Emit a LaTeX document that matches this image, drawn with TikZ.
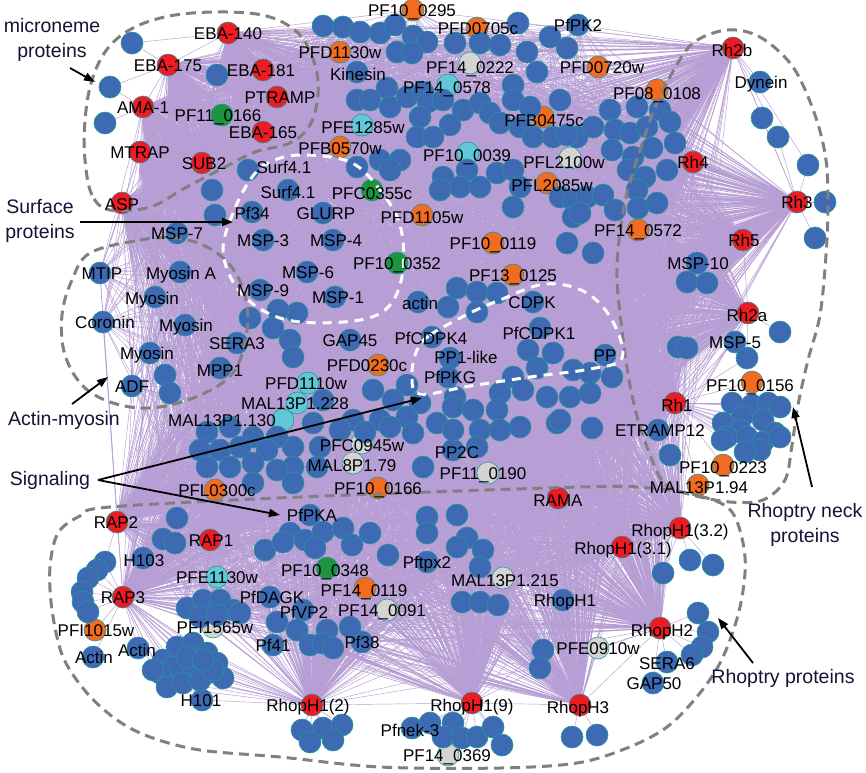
\documentclass[tikz,border=0pt]{standalone}
\usepackage{fontspec}
\setmainfont{Liberation Sans}
\usepackage{xcolor}
\definecolor{netRed}   {RGB}{237, 28, 36}
\definecolor{netBlue}  {RGB}{ 62,106,180}
\definecolor{netRim}   {RGB}{ 38,150,158}
\definecolor{netOrange}{RGB}{241,107, 32}
\definecolor{netCyan}  {RGB}{ 96,200,214}
\definecolor{netGreen} {RGB}{ 28,148, 64}
\definecolor{netGrey}  {RGB}{212,212,212}
\definecolor{netEdge}  {RGB}{183,158,212}
\definecolor{netDash}  {RGB}{128,128,128}
\definecolor{netInk}   {RGB}{ 18, 22, 52}
\usetikzlibrary{
  arrows.meta,
  backgrounds,
}

% unlabeled interactors of the dense core
\def\corelist{323/26, 343/27, 360/32, 380/33, 395/25, 413/36, 427/42, 397/52,
  412/53, 455/43, 480/43, 500/45, 518/23, 527/52, 550/37, 567/48,
  217/75, 212/190, 215/215,
  387/88, 357/100, 370/100, 390/107, 407/97, 423/92, 428/102, 443/100,
  463/110, 480/103, 490/113, 513/85, 537/72, 513/100, 530/107, 560/100,
  420/117, 450/125, 417/137, 433/137, 500/123, 520/127, 533/137, 553/137,
  577/137, 610/110, 637/107, 660/110, 670/122, 593/127, 615/130, 630/133,
  647/127, 567/135, 612/150, 633/157, 652/148, 675/143,
  400/160, 380/160, 357/167, 390/170, 443/177, 467/170, 460/187, 480/187,
  440/190, 497/173, 513/170, 520/187, 560/197, 573/200, 513/207, 573/217,
  628/170, 645/177, 667/170, 587/197, 603/195, 580/213, 615/210, 637/190,
  638/208, 657/203, 567/243, 593/253, 687/282, 707/283, 678/347, 687/348,
  297/313, 290/340, 278/310, 250/318, 273/328, 293/357, 457/288, 477/292,
  497/293, 448/307, 477/312, 528/350, 553/353, 537/368, 513/377, 573/370,
  590/373, 612/377, 373/390, 407/385, 393/400, 455/397, 500/393, 523/390,
  547/397, 570/397, 590/393, 323/400, 420/403, 353/420, 380/420, 407/417,
  313/423, 340/430, 365/432, 390/427, 413/433, 293/447, 320/447, 293/467,
  317/467, 437/423, 453/407, 473/410, 453/430, 480/430, 497/410, 520/427,
  557/423, 477/447, 500/430, 423/467, 592/428, 560/420,
  207/432, 230/427, 253/437, 277/437, 200/450, 220/450, 240/447, 267/450,
  207/467, 230/467, 253/463, 277/470, 293/483, 253/483, 165/375, 170/393,
  177/518, 163/539, 175/543, 290/533, 305/540, 323/532, 343/528, 370/533,
  315/548, 352/545, 388/555, 427/517, 457/515, 427/533, 467/538, 457/547,
  483/550, 480/567, 462/602, 480/602, 498/605, 350/627, 297/630, 327/630,
  310/645, 323/643, 333/648, 543/650, 540/668, 265/550, 283/542, 277/622,
  187/608, 203/600, 220/600, 233/610, 200/617, 217/615, 240/613}

% named interactors that every hub reaches
\def\labcore{kinesin, pfpk2, surf41a, surf41b, pf34, glurp, msp3, msp4, msp6,
  msp9, msp1, msp7, msp10, mtip, myosina, myosin1, coronin, myosin2, myosin3,
  adf, sera3, mpp1, actin, cdpk, gap45, pfcdpk4, pfcdpk1, pp1like, pfpkg, pp,
  pp2c, h103, pfdagk, pfvp2, pf41, pf38, pfpka, pftpx2, rhoph1,
  pf10-0295, pfd0705c, pfd1130w, pfd0720w, pf08-0108, pfb0475c, pfb0570w,
  pfl2085w, pfd1105w, pf10-0119, pf14-0572, pf13-0125, pfd0230c, pfl0300c,
  pf10-0166, pf14-0119, pf14-0578, pfe1285w, pf10-0039, pfd1110w,
  mal13p1-228, mal13p1-130, pfe1130w, pf11-0166, pfc0355c, pf10-0352,
  pf10-0348, pf14-0222, pfl2100w, pfc0945w, mal8p1-79, pf11-0190,
  mal13p1-215, pfi1565w, pf14-0091}

\def\hublist{eba140, eba175, eba181, ama1, ptramp, eba165, mtrap, sub2, asp,
  rh2b, rh4, rh3, rh5, rh2a, rh1, rama, rap2, rap1, rap3, rhop32, rhop31,
  rhoph2, rhoph3, rhop2, rhop9}

\begin{document}
\begin{tikzpicture}[
  x=1pt, y=-1pt,
  prot/.style={circle, minimum size=22pt, inner sep=0pt, draw=netRim,
               line width=0.6pt},
  hub/.style={prot, fill=netRed},
  bnode/.style={prot, fill=netBlue},
  onode/.style={prot, fill=netOrange},
  cnode/.style={prot, fill=netCyan},
  gnode/.style={prot, fill=netGreen},
  ynode/.style={prot, fill=netGrey},
  lbl/.style={font=\fontsize{17}{17}\selectfont, inner sep=0pt,
              text height=12.2pt, text depth=0pt, text=black},
  link/.style={draw=netEdge, line width=0.45pt},
  grp/.style={draw=netDash, line width=3pt, dash pattern=on 10pt off 6pt},
  wgrp/.style={draw=white, line width=3pt, dash pattern=on 9pt off 7pt},
  note/.style={font=\fontsize{19.5}{25}\selectfont, text=netInk,
               align=center, inner sep=0pt},
  pointer/.style={-{Triangle[length=11pt,width=8pt]}, line width=1.8pt},
]
  \useasboundingbox (0,0) rectangle (866,772);

  % Hubs (red)
  \foreach \n/\x/\y in {eba140/228/33, eba175/168/65, eba181/263/70,
      ama1/143/107, ptramp/277/97, eba165/263/132, mtrap/140/152,
      sub2/202/163, asp/122/203, rh2b/733/48, rh4/693/162, rh3/797/202,
      rh5/743/240, rh2a/748/313, rh1/675/403, rama/558/498, rap2/117/522,
      rap1/210/540, rap3/123/597, rhop32/680/528, rhop31/622/547,
      rhoph2/660/628, rhoph3/580/705, rhop2/312/705, rhop9/472/703}
    \node[hub] (\n) at (\x,\y) {};

  % Coloured interactors
  \foreach \n/\x/\y in {pf10-0295/413/10, pfd0705c/477/28, pfd1130w/340/52,
      pfd0720w/598/67, pf08-0108/657/90, pfb0475c/543/117, pfb0570w/340/147,
      pfl2085w/547/183, pfd1105w/422/215, pf10-0119/493/243,
      pf14-0572/638/230, pf13-0125/513/275, pfd0230c/378/365,
      pfl0300c/215/490, pf10-0166/378/488, pf10-0156/752/382,
      pf10-0223/723/465, mal13p1-94/698/485, pfi1015w/95/630,
      pf14-0119/365/588}
    \node[onode] (\n) at (\x,\y) {};
  \foreach \n/\x/\y in {pf14-0578/448/85, pfe1285w/362/125, pf10-0039/468/153,
      pfd1110w/308/383, mal13p1-228/297/403, mal13p1-130/283/420,
      pfe1130w/217/577}
    \node[cnode] (\n) at (\x,\y) {};
  \foreach \n/\x/\y in {pf11-0166/222/115, pfc0355c/372/190,
      pf10-0352/397/263, pf10-0348/327/568}
    \node[gnode] (\n) at (\x,\y) {};
  \foreach \n/\x/\y in {pf14-0222/470/63, pfl2100w/570/158, pfc0945w/362/443,
      mal8p1-79/353/463, pf11-0190/488/473, mal13p1-215/503/578,
      pfi1565w/213/627, pf14-0091/387/610, pfe0910w/598/648,
      pf14-0369/448/755}
    \node[ynode] (\n) at (\x,\y) {};

  % Named blue interactors
  \foreach \n/\x/\y in {kinesin/357/72, pfpk2/578/25, dynein/760/82,
      surf41a/248/170, surf41b/288/190, pf34/252/212, glurp/323/213,
      msp3/263/240, msp4/333/240, msp6/307/272, msp9/260/290, msp1/335/297,
      msp7/177/233, msp10/697/263, msp5/735/342, mtip/100/273,
      myosina/180/272, myosin1/155/297, coronin/103/322, myosin2/185/325,
      myosin3/150/353, adf/132/386, sera3/237/343, mpp1/220/368,
      actin/418/302, cdpk/533/302, gap45/350/340, pfcdpk4/432/337,
      pfcdpk1/540/328, pp1like/450/358, pfpkg/448/377, pp/605/355,
      pp2c/453/450, etramp12/658/430, sera6/667/662, gap50/653/683,
      h103/143/558, pfdagk/270/597, pfvp2/303/610, pf41/273/645,
      pf38/362/642, pfpka/310/515, pftpx2/427/562, rhoph1/563/600,
      pfnek3/412/728, actin1/93/657, actin2/138/648, h101/202/700}
    \node[bnode] (\n) at (\x,\y) {};

  % Unnamed core and satellites
  \foreach \x/\y [count=\i] in \corelist
    \node[bnode] (c\i) at (\x,\y) {};
  \foreach \n/\x/\y in {m1/132/43, m2/110/87, m3/105/123,
      d1/762/118, d2/778/137, d3/808/165, d4/825/202, d5/815/238,
      a1/780/332, a2/747/358, r1/670/455,
      q1/663/573, q2/690/560, q3/713/565,
      h1/698/613, h2/708/632, h3/702/647, h4/692/655, e1/572/737, e2/597/735,
      n1/430/723, n2/453/723, n3/443/737, n4/462/738, n5/477/737,
      n6/493/727, n7/502/745,
      p1/302/730, p2/323/728, p3/342/725, p4/333/740, p5/310/742,
      u1/105/562, u2/97/570, u3/88/578, u4/82/592, u5/83/602, u6/88/612}
    \node[bnode] (\n) at (\x,\y) {};
  % Rh1 cluster
  \foreach \x/\y [count=\i] in {732/403, 752/405, 768/403, 780/407, 742/417,
      763/420, 723/423, 740/430, 775/433, 727/437, 747/437, 763/442,
      780/437, 760/450, 722/440, 745/452}
    \node[bnode] (k\i) at (\x,\y) {};
  % H101 cluster
  \foreach \x/\y [count=\i] in {163/660, 177/647, 193/643, 207/653, 217/663,
      223/678, 207/673, 190/667, 173/667, 160/673, 167/687, 183/683,
      200/680, 213/670, 187/657, 203/660, 153/670}
    \node[bnode] (w\i) at (\x,\y) {};

  % Interactions, kept under the proteins
  \begin{scope}[on background layer]
    \fill[white] (0,0) rectangle (866,772);
    \foreach \h in \hublist {
      \draw[link] \foreach \x/\y [count=\i] in \corelist {(\h) -- (c\i)};
      \draw[link] \foreach \t in \labcore {(\h) -- (\t)};
    }
    \foreach \h/\s in {eba175/m1, eba140/m1, eba175/m2, ama1/m2, ama1/m3,
        rh2b/dynein, rh2b/d1, rh2b/d2, rh2b/d3, rh3/d1, rh3/d2, rh3/d3,
        rh3/d4, rh3/d5, rh2a/a1, rh2a/msp5, rh2a/a2, rh1/msp5, rh1/a2,
        rh1/pf10-0156, rh1/etramp12, rh1/r1, rh1/pf10-0223, rh1/mal13p1-94,
        rhop32/q1, rhop32/q2, rhop32/q3, rhop31/q1, rhoph2/h1, rhoph2/h2,
        rhoph2/h3, rhoph2/h4, rhoph2/sera6, rhoph2/gap50, rhoph2/pfe0910w,
        rhoph2/q1, rhoph3/e1, rhoph3/e2, rhoph3/pfe0910w, rhop9/pfnek3,
        rhop9/n1, rhop9/n2, rhop9/n3, rhop9/n4, rhop9/n5, rhop9/n6,
        rhop9/n7, rhop9/pf14-0369, rhop2/p1, rhop2/p2, rhop2/p3, rhop2/p4,
        rhop2/p5, rap3/u1, rap3/u2, rap3/u3, rap3/u4, rap3/u5, rap3/u6,
        rap2/u1, rap3/pfi1015w, rap3/actin1, rap3/actin2, rap3/h101,
        rhop2/h101}
      \draw[link] (\h) -- (\s);
    \foreach \i in {1,...,16}
      \draw[link] (rh1) -- (k\i);
    \foreach \i in {1,...,17}
      \draw[link] (rap3) -- (w\i) (rhop2) -- (w\i);
    % hub to hub
    \foreach \a/\b in {rhop2/rhop9, rhop9/rhoph3, rhoph3/rhoph2,
        rhoph2/rhop31, rhop31/rhop32, rama/rhop31, rap3/rap2, rap2/rap1,
        rap1/rap3, eba140/eba175, eba175/ama1, ama1/mtrap, eba181/eba140,
        rh2b/rh4, rh4/rh3, rh3/rh5, rh5/rh2a, rh2a/rh1, rh2b/rh3,
        rh1/rh5, rh1/rh4}
      \draw[link] (\a) -- (\b);
  \end{scope}

  % Functional groups
  \draw[grp] plot[smooth cycle, tension=0.6] coordinates {
    (110,210) (92,195) (85,160) (85,120) (92,80) (108,48) (135,27) (175,15)
    (227,12) (270,17) (300,35) (315,65) (318,95) (310,125) (290,143)
    (255,152) (225,167) (185,188) (150,207)};
  \draw[grp] plot[smooth cycle, tension=0.6] coordinates {
    (90,253) (140,240) (175,238) (205,246) (230,265) (245,295) (247,330)
    (235,370) (205,393) (160,407) (120,405) (85,388) (65,355) (62,315)
    (72,280)};
  \draw[grp] plot[smooth cycle, tension=0.55] coordinates {
    (693,43) (727,30) (760,37) (793,67) (815,115) (826,160) (828,207)
    (826,255) (820,315) (808,360) (798,405) (792,445) (785,480) (763,500)
    (730,502) (692,495) (665,484) (650,455) (638,420) (629,380) (622,330)
    (617,280) (619,240) (627,193) (640,150) (654,110) (671,75)};
  \draw[grp] plot[smooth cycle, tension=0.55] coordinates {
    (650,488) (700,496) (732,512) (745,557) (740,607) (723,657) (700,693)
    (667,727) (627,748) (577,763) (500,768) (380,767) (280,757) (200,750)
    (150,737) (117,720) (87,693) (63,657) (52,610) (50,567) (58,533)
    (80,516) (110,507) (300,497) (580,487)};
  \draw[wgrp] plot[smooth cycle, tension=0.6] coordinates {
    (250,180) (233,213) (223,250) (235,285) (262,310) (300,322) (360,320)
    (390,305) (403,270) (400,225) (380,190) (350,162) (300,155) (268,163)};
  \draw[wgrp] plot[smooth cycle, tension=0.6] coordinates {
    (417,350) (430,335) (470,313) (500,300) (545,284) (585,292) (612,320)
    (622,358) (590,369) (537,376) (470,386) (420,394) (412,375)};

  % Protein names
  \foreach \n/\x/\y/\t in {eba140/228/33/EBA-140, eba175/168/65/EBA-175,
      eba181/261/70/EBA-181, ama1/143/107/AMA-1, ptramp/280/97/PTRAMP,
      pf11-0166/218/115/PF11\_0166, eba165/263/132/EBA-165,
      mtrap/140/152/MTRAP, sub2/204/163/SUB2, surf41a/284/167/Surf4.1,
      surf41b/288/192/Surf4.1, asp/122/204/ASP, pf34/252/213/Pf34,
      glurp/326/213/GLURP, msp7/177/233/MSP-7, msp3/263/240/MSP-3,
      msp4/336/240/MSP-4, pf10-0295/412/10/PF10\_0295,
      pfd0705c/478/28/PFD0705c, pfpk2/578/25/PfPK2,
      pfd1130w/340/52/PFD1130w, pf14-0222/470/67/PF14\_0222,
      pfd0720w/602/67/PFD0720w, kinesin/358/74/Kinesin,
      pf14-0578/447/87/PF14\_0578, pf08-0108/657/93/PF08\_0108,
      pfb0475c/544/120/PFB0475c, pfe1285w/363/127/PFE1285w,
      pfb0570w/340/148/PFB0570w, pf10-0039/467/155/PF10\_0039,
      pfl2100w/564/162/PFL2100w, pfl2085w/552/185/PFL2085w,
      pfc0355c/372/193/PFC0355c, pfd1105w/422/217/PFD1105w,
      pf10-0119/493/243/PF10\_0119, pf14-0572/638/230/PF14\_0572,
      rh2b/732/50/Rh2b, dynein/761/82/Dynein, rh4/693/162/Rh4,
      rh3/797/202/Rh3, rh5/744/240/Rh5, msp10/698/263/MSP-10,
      rh2a/747/315/Rh2a, msp5/735/342/MSP-5,
      pf10-0156/750/385/PF10\_0156, rh1/677/405/Rh1,
      etramp12/660/430/ETRAMP12, pf10-0223/723/467/PF10\_0223,
      mal13p1-94/699/487/MAL13P1.94, pf10-0352/397/263/PF10\_0352,
      msp6/308/272/MSP-6, msp9/263/290/MSP-9, msp1/338/297/MSP-1,
      pf13-0125/513/275/PF13\_0125, actin/420/303/actin,
      cdpk/532/302/CDPK, gap45/350/340/GAP45, pfcdpk4/431/338/PfCDPK4,
      pfcdpk1/539/333/PfCDPK1, pp1like/466/357/PP1-like,
      pfpkg/450/377/PfPKG, pp/605/355/PP, pfd0230c/367/365/PFD0230c,
      pfd1110w/306/383/PFD1110w, mal13p1-228/295/403/MAL13P1.228,
      mal13p1-130/222/420/MAL13P1.130, mtip/102/273/MTIP,
      myosina/181/273/Myosin A, myosin1/152/298/Myosin,
      coronin/105/322/Coronin, myosin2/186/325/Myosin,
      myosin3/147/353/Myosin, adf/132/386/ADF, sera3/237/343/SERA3,
      mpp1/220/370/MPP1, pfc0945w/362/445/PFC0945w,
      mal8p1-79/352/465/MAL8P1.79, pp2c/457/452/PP2C,
      pf11-0190/483/473/PF11\_0190, pfl0300c/217/490/PFL0300c,
      pf10-0166/378/488/PF10\_0166, rama/558/500/RAMA, rap2/116/522/RAP2,
      rap1/211/540/RAP1, h103/144/560/H103, pfpka/312/515/PfPKA,
      pfe1130w/217/577/PFE1130w, rap3/123/597/RAP3,
      pfdagk/272/597/PfDAGK, pf10-0348/325/570/PF10\_0348,
      pf14-0119/364/590/PF14\_0119, pftpx2/427/562/Pftpx2,
      mal13p1-215/505/580/MAL13P1.215, rhoph1/565/600/RhopH1,
      pf14-0091/382/610/PF14\_0091, pfvp2/304/612/PfVP2,
      pfi1565w/215/627/PFI1565w, pfi1015w/96/630/PFI1015w,
      pf41/273/645/Pf41, pf38/362/642/Pf38, actin2/137/650/Actin,
      actin1/94/657/Actin, h101/201/700/H101,
      rhop32/680/530/RhopH1(3.2), rhop31/623/548/RhopH1(3.1),
      rhoph2/662/630/RhopH2, pfe0910w/598/648/PFE0910w,
      sera6/667/663/SERA6, gap50/654/683/GAP50,
      rhop2/308/705/RhopH1(2), rhop9/472/705/RhopH1(9),
      rhoph3/578/707/RhopH3, pfnek3/410/730/Pfnek-3,
      pf14-0369/447/755/PF14\_0369}
    \node[lbl] (\n-l) at (\x,\y) {\t};

  % Group captions
  \node[note] (micro-txt) at (52,40)  {microneme\\proteins};
  \node[note] (surf-txt)  at (40,221) {Surface\\proteins};
  \node[note] (am-txt)    at (64,420) {Actin-myosin};
  \node[note] (sig-txt)   at (50,480) {Signaling};
  \node[note] (neck-txt)  at (805,525) {Rhoptry neck\\proteins};
  \node[note] (rhop-txt)  at (783,678) {Rhoptry proteins};

  \coordinate (micro-from) at (70,68);   \coordinate (micro-to) at (95,82);
  \coordinate (surf-from)  at (80,222);  \coordinate (surf-to)  at (233,222);
  \coordinate (am-from)    at (72,404);  \coordinate (am-to)    at (108,377);
  \coordinate (sig-from)   at (98,480);
  \coordinate (sig-to1)    at (422,398); \coordinate (sig-to2)  at (280,515);
  \coordinate (neck-from)  at (812,487); \coordinate (neck-to)  at (793,407);
  \coordinate (rhop-from)  at (753,663); \coordinate (rhop-to)  at (718,618);

  \draw[pointer] (micro-from) -- (micro-to);
  \draw[pointer] (surf-from) -- (surf-to);
  \draw[pointer] (am-from) -- (am-to);
  \draw[pointer] (sig-from) -- (sig-to1);
  \draw[pointer] (sig-from) -- (sig-to2);
  \draw[pointer] (neck-from) -- (neck-to);
  \draw[pointer] (rhop-from) -- (rhop-to);
\end{tikzpicture}
\end{document}
